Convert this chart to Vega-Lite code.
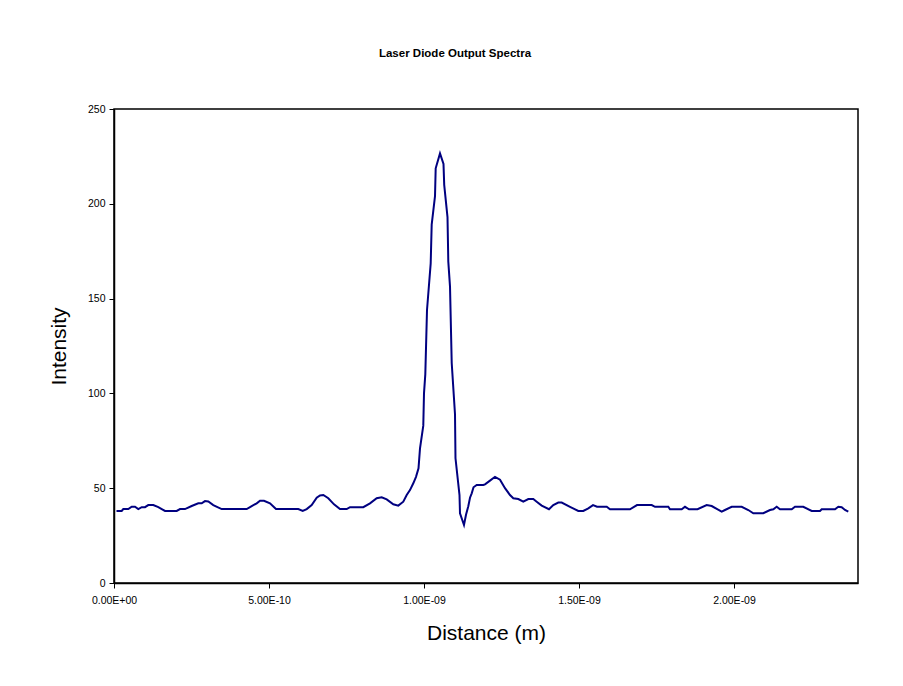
{
  "$schema": "https://vega.github.io/schema/vega-lite/v6.json",
  "width": 744,
  "height": 474,
  "autosize": {"type": "none"},
  "padding": {"left": 114, "top": 109, "right": 45, "bottom": 103},
  "background": "white",
  "title": {"text": "Laser Diode Output Spectra", "font": "Liberation Sans", "fontSize": 11.5, "fontWeight": "bold", "color": "black", "offset": 45, "dx": -31, "anchor": "middle"},
  "data": {"values": [
    {"d": 8.06e-12, "i": 38}, {"d": 2.48e-11, "i": 38}, {"d": 3.00e-11, "i": 39}, {"d": 4.61e-11, "i": 39},
    {"d": 5.71e-11, "i": 40.2}, {"d": 6.77e-11, "i": 40.2}, {"d": 7.84e-11, "i": 39}, {"d": 8.94e-11, "i": 40},
    {"d": 1.000e-10, "i": 40}, {"d": 1.106e-10, "i": 41.1}, {"d": 1.268e-10, "i": 41.1}, {"d": 1.429e-10, "i": 40},
    {"d": 1.645e-10, "i": 38}, {"d": 2.023e-10, "i": 38}, {"d": 2.129e-10, "i": 39}, {"d": 2.290e-10, "i": 39},
    {"d": 2.506e-10, "i": 40.6}, {"d": 2.719e-10, "i": 42}, {"d": 2.829e-10, "i": 42}, {"d": 2.935e-10, "i": 43.2},
    {"d": 3.042e-10, "i": 43}, {"d": 3.203e-10, "i": 41.1}, {"d": 3.474e-10, "i": 39}, {"d": 4.281e-10, "i": 39},
    {"d": 4.442e-10, "i": 40.6}, {"d": 4.603e-10, "i": 42}, {"d": 4.710e-10, "i": 43.4}, {"d": 4.839e-10, "i": 43.4},
    {"d": 5.032e-10, "i": 42}, {"d": 5.226e-10, "i": 39}, {"d": 5.945e-10, "i": 39}, {"d": 6.087e-10, "i": 38},
    {"d": 6.216e-10, "i": 39}, {"d": 6.377e-10, "i": 41.1}, {"d": 6.539e-10, "i": 45}, {"d": 6.645e-10, "i": 46.2},
    {"d": 6.752e-10, "i": 46.4}, {"d": 6.913e-10, "i": 44.7}, {"d": 7.097e-10, "i": 41.5}, {"d": 7.290e-10, "i": 39},
    {"d": 7.506e-10, "i": 39}, {"d": 7.613e-10, "i": 40}, {"d": 8.042e-10, "i": 40}, {"d": 8.258e-10, "i": 42},
    {"d": 8.474e-10, "i": 44.7}, {"d": 8.635e-10, "i": 45.2}, {"d": 8.797e-10, "i": 44.1}, {"d": 9.010e-10, "i": 41.5},
    {"d": 9.171e-10, "i": 40.8}, {"d": 9.332e-10, "i": 42.9}, {"d": 9.442e-10, "i": 46.4}, {"d": 9.548e-10, "i": 49},
    {"d": 9.655e-10, "i": 52.6}, {"d": 9.742e-10, "i": 56}, {"d": 9.823e-10, "i": 60.5}, {"d": 9.871e-10, "i": 71},
    {"d": 9.977e-10, "i": 83}, {"d": 1.0000e-9, "i": 100}, {"d": 1.0042e-9, "i": 110}, {"d": 1.0097e-9, "i": 144},
    {"d": 1.0216e-9, "i": 168.6}, {"d": 1.0248e-9, "i": 189}, {"d": 1.0355e-9, "i": 204}, {"d": 1.0377e-9, "i": 218.7},
    {"d": 1.0516e-9, "i": 226.6}, {"d": 1.0629e-9, "i": 221}, {"d": 1.0652e-9, "i": 210}, {"d": 1.0758e-9, "i": 193},
    {"d": 1.0784e-9, "i": 169.5}, {"d": 1.0839e-9, "i": 156.3}, {"d": 1.0894e-9, "i": 116}, {"d": 1.1000e-9, "i": 89},
    {"d": 1.1016e-9, "i": 65.8}, {"d": 1.1145e-9, "i": 46.4}, {"d": 1.1161e-9, "i": 36.8}, {"d": 1.1290e-9, "i": 30.6},
    {"d": 1.1355e-9, "i": 36}, {"d": 1.1429e-9, "i": 40.5}, {"d": 1.1484e-9, "i": 45}, {"d": 1.1539e-9, "i": 47.3},
    {"d": 1.1597e-9, "i": 50.5}, {"d": 1.1700e-9, "i": 51.7}, {"d": 1.1913e-9, "i": 51.7}, {"d": 1.1968e-9, "i": 52},
    {"d": 1.2129e-9, "i": 54}, {"d": 1.2290e-9, "i": 56}, {"d": 1.2452e-9, "i": 54.5}, {"d": 1.2613e-9, "i": 50},
    {"d": 1.2774e-9, "i": 46.4}, {"d": 1.2881e-9, "i": 44.7}, {"d": 1.3042e-9, "i": 44.3}, {"d": 1.3203e-9, "i": 42.9},
    {"d": 1.3365e-9, "i": 44.3}, {"d": 1.3526e-9, "i": 44.3}, {"d": 1.3635e-9, "i": 42.9}, {"d": 1.3797e-9, "i": 40.8},
    {"d": 1.4032e-9, "i": 38.9}, {"d": 1.4171e-9, "i": 41.1}, {"d": 1.4332e-9, "i": 42.4}, {"d": 1.4442e-9, "i": 42.4},
    {"d": 1.4710e-9, "i": 40.2}, {"d": 1.4977e-9, "i": 38}, {"d": 1.5139e-9, "i": 38}, {"d": 1.5300e-9, "i": 39.4},
    {"d": 1.5452e-9, "i": 41.1}, {"d": 1.5581e-9, "i": 40.2}, {"d": 1.5894e-9, "i": 40.2}, {"d": 1.6000e-9, "i": 38.9},
    {"d": 1.6645e-9, "i": 38.9}, {"d": 1.6871e-9, "i": 41.1}, {"d": 1.7345e-9, "i": 41.1}, {"d": 1.7452e-9, "i": 40.2},
    {"d": 1.7881e-9, "i": 40.2}, {"d": 1.7935e-9, "i": 38.9}, {"d": 1.8313e-9, "i": 38.9}, {"d": 1.8419e-9, "i": 40.2},
    {"d": 1.8548e-9, "i": 38.9}, {"d": 1.8823e-9, "i": 38.9}, {"d": 1.9119e-9, "i": 41.1}, {"d": 1.9281e-9, "i": 40.6},
    {"d": 1.9603e-9, "i": 37.6}, {"d": 1.9710e-9, "i": 38.5}, {"d": 1.9926e-9, "i": 40.2}, {"d": 2.0248e-9, "i": 40.2},
    {"d": 2.0461e-9, "i": 38.5}, {"d": 2.0623e-9, "i": 36.8}, {"d": 2.0945e-9, "i": 36.8}, {"d": 2.1161e-9, "i": 38.5},
    {"d": 2.1268e-9, "i": 38.9}, {"d": 2.1377e-9, "i": 40.2}, {"d": 2.1484e-9, "i": 38.9}, {"d": 2.1861e-9, "i": 38.9},
    {"d": 2.1968e-9, "i": 40.2}, {"d": 2.2235e-9, "i": 40.2}, {"d": 2.2506e-9, "i": 38}, {"d": 2.2774e-9, "i": 38},
    {"d": 2.2829e-9, "i": 38.9}, {"d": 2.3258e-9, "i": 38.9}, {"d": 2.3365e-9, "i": 40.2}, {"d": 2.3474e-9, "i": 40},
    {"d": 2.3581e-9, "i": 38.5}, {"d": 2.3687e-9, "i": 37.6}
  ]},
  "mark": {"type": "line", "color": "#000080", "strokeWidth": 2, "clip": true},
  "encoding": {
    "x": {
      "field": "d", "type": "quantitative",
      "scale": {"domain": [0, 2.4e-9], "nice": false, "zero": false},
      "axis": {
        "title": "Distance (m)",
        "values": [0, 5e-10, 1e-9, 1.5e-9, 2e-9],
        "labelExpr": "datum.value == 0 ? '0.00E+00' : (datum.value < 9.9e-10 ? format(datum.value * 1e10, '.2f') + 'E-10' : format(datum.value * 1e9, '.2f') + 'E-09')",
        "labelFlush": false,
        "labelPadding": 7,
        "titlePadding": 17
      }
    },
    "y": {
      "field": "i", "type": "quantitative",
      "scale": {"domain": [0, 250], "nice": false},
      "axis": {
        "title": "Intensity",
        "values": [0, 50, 100, 150, 200, 250],
        "labelPadding": 4,
        "titlePadding": 18
      }
    }
  },
  "config": {
    "view": {"stroke": "black", "strokeWidth": 1.5},
    "axis": {
      "grid": false,
      "domainColor": "black",
      "domainWidth": 1.5,
      "tickColor": "black",
      "tickSize": 5,
      "tickWidth": 1,
      "labelFont": "Liberation Sans",
      "labelFontSize": 10.5,
      "labelColor": "black",
      "titleFont": "Liberation Sans",
      "titleFontSize": 21,
      "titleFontWeight": "normal",
      "titleColor": "black"
    }
  }
}
